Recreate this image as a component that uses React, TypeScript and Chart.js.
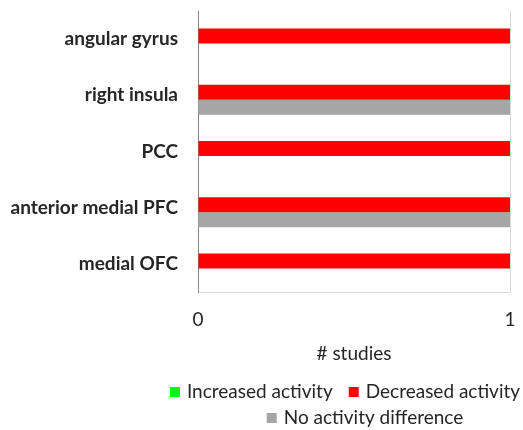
import React, { useEffect, useRef } from "react";
import { Chart, registerables } from "chart.js";

Chart.register(...registerables);

const categories = ["angular gyrus", "right insula", "PCC", "anterior medial PFC", "medial OFC"];
const increased = [0, 0, 0, 0, 0];
const decreased = [1, 1, 1, 1, 1];
const noDifference = [0, 1, 0, 1, 0];
const seriesNames = ["Increased activity", "Decreased activity", "No activity difference"];
const seriesColors = ["#00FF00", "#FF0000", "#A6A6A6"];
const xTicks = [0, 1];
const xTitle = "# studies";

const FONT = "Lato, 'Open Sans', sans-serif";
const TEXT = "#262626";
const FS = 19;

const legendPlugin = {
  id: "customLegend",
  beforeDatasetsDraw(chart: any) {
    chart.ctx.save();
    chart.ctx.translate(0, -3);
  },
  afterDatasetsDraw(chart: any) {
    chart.ctx.restore();
  },
  afterDraw(chart: any) {
    const ctx = chart.ctx;
    const rows = [
      { items: [0, 1], cx: 345, cy: 392 },
      { items: [2], cx: 365, cy: 418 },
    ];
    const box = 10;
    const gap = 7;
    const itemGap = 16;
    ctx.save();
    ctx.font = `${FS}px ${FONT}`;
    ctx.textBaseline = "middle";
    ctx.textAlign = "left";
    rows.forEach((row) => {
      const widths = row.items.map((i) => box + gap + ctx.measureText(chart.data.datasets[i].label).width);
      const total = widths.reduce((a, b) => a + b, 0) + itemGap * (row.items.length - 1);
      let x = row.cx - total / 2;
      row.items.forEach((i, k) => {
        const ds = chart.data.datasets[i];
        ctx.fillStyle = ds.backgroundColor;
        ctx.fillRect(x, row.cy - box / 2, box, box);
        ctx.fillStyle = TEXT;
        ctx.fillText(ds.label, x + box + gap, row.cy);
        x += widths[k] + itemGap;
      });
    });
    ctx.restore();
  },
};

const zeroPad = (s: any) => {
  s.paddingTop = 0;
  s.paddingBottom = 0;
  s.paddingLeft = 0;
  s.paddingRight = 0;
};

export default function App() {
  const ref = useRef<HTMLCanvasElement>(null);
  useEffect(() => {
    const chart = new Chart(ref.current!, {
      type: "bar",
      data: {
        labels: categories,
        datasets: [increased, decreased, noDifference].map((d, i) => ({
          label: seriesNames[i],
          data: d,
          backgroundColor: seriesColors[i],
          borderWidth: 0,
          categoryPercentage: 0.8,
          barPercentage: 1.0,
        })),
      },
      options: {
        indexAxis: "y",
        animation: false,
        responsive: false,
        maintainAspectRatio: false,
        layout: { autoPadding: false, padding: { top: 11, right: 13, bottom: 0, left: 0 } },
        plugins: {
          legend: { display: false },
          tooltip: { enabled: false },
        },
        scales: {
          x: {
            min: 0,
            max: 1,
            afterBuildTicks: (s: any) => {
              s.ticks = xTicks.map((v) => ({ value: v }));
            },
            afterFit: (s: any) => {
              s.height = 138;
              zeroPad(s);
            },
            grid: {
              drawTicks: false,
              color: (c: any) => (c.tick && c.tick.value === 1 ? "#D9D9D9" : "rgba(0,0,0,0)"),
            },
            border: { display: true, color: "#D9D9D9" },
            ticks: {
              padding: 16,
              color: TEXT,
              font: { family: FONT, size: FS },
              maxRotation: 0,
            },
            title: {
              display: true,
              text: xTitle,
              color: TEXT,
              font: { family: FONT, size: FS },
              padding: { top: 0, bottom: 65 },
            },
          },
          y: {
            afterFit: (s: any) => {
              s.width = 198;
              zeroPad(s);
            },
            grid: { display: false, drawTicks: false },
            border: { display: true, color: "#868686" },
            ticks: {
              padding: 20,
              color: TEXT,
              font: { family: FONT, size: FS, weight: "bold" },
            },
          },
        },
      },
      plugins: [legendPlugin],
    });
    return () => chart.destroy();
  }, []);
  return (
    <div style={{ position: "fixed", left: 0, top: 0, width: 523, height: 430, background: "#fff" }}>
      <canvas ref={ref} width={523} height={430} style={{ width: 523, height: 430 }} />
    </div>
  );
}
